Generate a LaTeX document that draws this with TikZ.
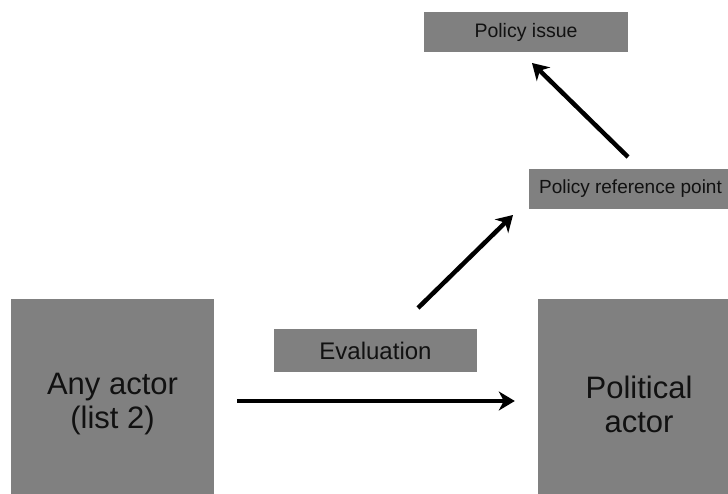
\documentclass[tikz,border=0pt]{standalone}
\usepackage{fontspec}
\setmainfont{Liberation Sans}
\usetikzlibrary{arrows.meta}
\definecolor{boxgray}{HTML}{808080}
\definecolor{txt}{HTML}{111111}
\tikzset{
  gbox/.style={fill=boxgray, draw=none, inner sep=0pt, align=center, text=txt},
  arr/.style={line width=4.5pt, draw=black, -{Stealth[length=16pt,width=19pt,inset=5pt]}}
}
\begin{document}
\begin{tikzpicture}[x=1pt,y=-1pt]
\useasboundingbox (0,0) rectangle (728,494);
\clip (0,0) rectangle (728,494);
% boxes
\node[gbox, minimum width=204pt, minimum height=40pt, font=\fontsize{19.5}{22}\selectfont] (issue) at (526,32) {Policy issue};
\node[gbox, minimum width=203pt, minimum height=40pt, font=\fontsize{19}{22}\selectfont] (ref) at (630.5,189) {Policy reference point};
\node[gbox, minimum width=203pt, minimum height=43pt, font=\fontsize{24}{28}\selectfont] (eval) at (375.5,350.5) {Evaluation};
\node[gbox, minimum width=203pt, minimum height=210pt, font=\fontsize{31}{34}\selectfont] (any) at (112.5,404) {Any actor\\(list 2)};
\node[gbox, minimum width=202pt, minimum height=210pt, font=\fontsize{31}{34}\selectfont] (pol) at (639,404) {Political\\actor};
% free connector ends
\coordinate (d1s) at (418,308);
\coordinate (d1e) at (513,215);
\coordinate (d2s) at (628,157);
\coordinate (d2e) at (532,63);
% connectors
\draw[arr, shorten <=23pt, shorten >=23pt] ([yshift=3pt]any.east) -- ([yshift=3pt]pol.west);
\draw[arr] (d1s) -- (d1e);
\draw[arr] (d2s) -- (d2e);
\end{tikzpicture}
\end{document}
